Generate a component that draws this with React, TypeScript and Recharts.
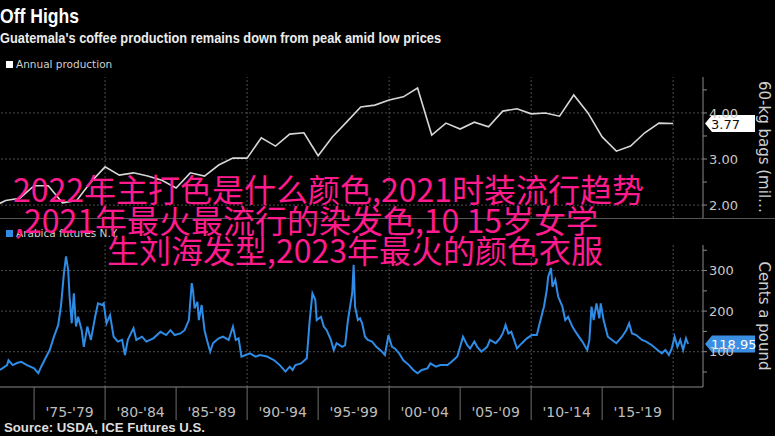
import React from 'react';
import { LineChart, Line, XAxis, YAxis, ReferenceLine } from 'recharts';

// Annual production, million 60-kg bags
const productionYears = [
  1972, 1973, 1974, 1975, 1976, 1977, 1978, 1979, 1980, 1981, 1982, 1983, 1984, 1985, 1986, 1987,
  1988, 1989, 1990, 1991, 1992, 1993, 1994, 1995, 1996, 1997, 1998, 1999, 2000, 2001, 2002, 2003,
  2004, 2005, 2006, 2007, 2008, 2009, 2010, 2011, 2012, 2013, 2014, 2015, 2016, 2017, 2018, 2019, 2020,
];
const productionValues = [
  1.95, 2.1, 2.15, 2.42, 2.42, 2.05, 2.1, 2.5, 2.83, 2.65, 2.7, 2.63, 2.54, 2.37, 2.7, 2.63,
  2.87, 3.02, 3.02, 3.46, 3.28, 3.54, 3.57, 3.07, 3.48, 3.8, 4.13, 4.17, 4.28, 4.35, 4.54, 3.52,
  3.78, 3.65, 3.8, 3.7, 4.04, 4.09, 3.98, 4.0, 3.93, 4.39, 4.0, 3.48, 3.17, 3.28, 3.57, 3.78, 3.77,
];

// Arabica futures N.Y., cents a pound
const futuresDates = [
  1972.6, 1973.1, 1973.2, 1973.5, 1973.8, 1974.1, 1974.5, 1975.0, 1975.3, 1975.5, 1975.8, 1976.1,
  1976.4, 1976.7, 1976.9, 1977.1, 1977.25, 1977.4, 1977.5, 1977.65, 1977.8, 1977.95, 1978.1, 1978.35,
  1978.5, 1978.75, 1979.0, 1979.3, 1979.5, 1979.8, 1979.9, 1980.1, 1980.35, 1980.6, 1980.9, 1981.2,
  1981.4, 1981.6, 1982.0, 1982.2, 1982.6, 1982.9, 1983.4, 1983.9, 1984.3, 1984.6, 1984.9, 1985.3,
  1985.6, 1985.9, 1986.1, 1986.2, 1986.3, 1986.5, 1986.6, 1986.8, 1987.0, 1987.2, 1987.4, 1987.6,
  1988.0, 1988.3, 1988.7, 1989.0, 1989.2, 1989.4, 1989.6, 1989.9, 1990.2, 1990.6, 1990.9, 1991.4,
  1991.9, 1992.3, 1992.7, 1993.0, 1993.2, 1993.4, 1993.8, 1994.2, 1994.4, 1994.6, 1994.8, 1994.9,
  1995.2, 1995.4, 1995.6, 1995.9, 1996.1, 1996.3, 1996.7, 1996.9, 1997.1, 1997.25, 1997.4, 1997.5,
  1997.6, 1997.8, 1997.95, 1998.1, 1998.3, 1998.5, 1998.8, 1999.1, 1999.5, 1999.7, 1999.95, 2000.2,
  2000.4, 2000.7, 2001.0, 2001.4, 2001.7, 2002.0, 2002.3, 2002.7, 2002.9, 2003.3, 2003.6, 2004.1,
  2004.4, 2004.8, 2005.0, 2005.2, 2005.5, 2005.7, 2006.0, 2006.2, 2006.5, 2006.9, 2007.1, 2007.5,
  2007.8, 2008.0, 2008.2, 2008.4, 2008.6, 2008.8, 2009.0, 2009.35, 2009.7, 2010.05, 2010.4, 2010.6,
  2010.9, 2011.1, 2011.2, 2011.4, 2011.5, 2011.7, 2011.9, 2012.2, 2012.4, 2012.6, 2012.9, 2013.2,
  2013.6, 2013.95, 2014.1, 2014.25, 2014.4, 2014.6, 2014.8, 2014.9, 2015.1, 2015.4, 2015.7, 2016.0,
  2016.4, 2016.7, 2016.9, 2017.1, 2017.4, 2017.8, 2018.1, 2018.5, 2018.9, 2019.2, 2019.45, 2019.7,
  2019.9, 2020.1, 2020.3, 2020.5, 2020.7, 2020.9, 2021.05,
];
const futuresValues = [
  55, 67, 79, 67, 72, 75, 67, 59, 47, 63, 84, 104,
  137, 166, 215, 293, 335, 302, 236, 170, 244, 162, 186, 153,
  112, 162, 129, 186, 219, 215, 219, 170, 190, 137, 125, 129,
  92, 129, 158, 129, 137, 125, 133, 149, 141, 153, 141, 145,
  153, 178, 269, 248, 207, 223, 178, 215, 153, 125, 100, 121,
  133, 137, 129, 162, 129, 133, 88, 92, 96, 88, 92, 88,
  79, 67, 51, 63, 55, 67, 71, 84, 174, 244, 228, 178,
  186, 162, 153, 129, 104, 121, 112, 116, 178, 211, 244, 314,
  211, 178, 182, 170, 137, 129, 125, 112, 100, 92, 141, 112,
  108, 96, 79, 67, 55, 47, 55, 59, 71, 63, 67, 67,
  75, 88, 112, 137, 116, 108, 125, 112, 100, 112, 129, 121,
  133, 145, 166, 145, 149, 129, 108, 121, 133, 141, 141, 170,
  211, 252, 285, 306, 260, 277, 236, 211, 178, 186, 162, 145,
  125, 104, 129, 211, 178, 219, 182, 219, 178, 137, 129, 121,
  137, 153, 170, 145, 141, 129, 125, 116, 104, 96, 104, 92,
  108, 137, 112, 129, 104, 133, 118.95,
];

const periodTicks = [1975, 1977.5, 1980, 1982.5, 1985, 1987.5, 1990, 1992.5, 1995, 1997.5, 2000, 2002.5, 2005, 2007.5, 2010, 2012.5, 2015, 2017.5, 2020];
const decadeYears = [1980, 1990, 2000, 2010, 2020];
const productionTicks = [2, 2.5, 3, 3.5, 4, 4.5];
const productionGrid = [2, 3, 4];
const futuresTicks = [50, 100, 150, 200, 250, 300, 350];
const futuresGrid = [100, 200, 300];

const yearDomain = [1972.6, 2022.1];

const productionData = productionYears.map((year, i) => ({ year, value: productionValues[i] }));
const futuresData = futuresDates.map((year, i) => ({ year, value: futuresValues[i] }));

const GRID = '#4d4d4d';
const AXIS = '#8a8a8a';
const BLUE = '#2f8ce6';
const PINK = '#ff1b8d';

const ValueTag = (props: any) => {
  const { viewBox, text, fill, color } = props;
  const x = viewBox.x + viewBox.width + 2;
  const y = viewBox.y;
  return (
    <g>
      <path
        d={`M${x},${y} L${x + 7},${y - 8.5} L${x + 50},${y - 8.5} L${x + 50},${y + 8.5} L${x + 7},${y + 8.5} Z`}
        fill={fill}
      />
      <text x={x + 6} y={y + 5} fontSize={13} fill={color} fontFamily="DejaVu Sans">
        {text}
      </text>
    </g>
  );
};

const PeriodTick = (props: any) => {
  const { x, y, payload } = props;
  const v = payload.value;
  if (v % 5 === 0) {
    return <line x1={x} x2={x} y1={y} y2={y + 33} stroke="#6e6e6e" />;
  }
  const start = v - 2.5;
  const label = `'${String(start).slice(2)}-'${String(start + 4).slice(2)}`;
  return (
    <text x={x} y={y + 30} textAnchor="middle" fontSize={14} fill="#bdbdbd" fontFamily="DejaVu Sans">
      {label}
    </text>
  );
};

const tickStyle = { fontSize: 13, fill: '#c8c8c8', fontFamily: 'DejaVu Sans' };

export default function App() {
  return (
    <div style={{ position: 'fixed', left: 0, top: 0, width: 775, height: 436, background: '#000', overflow: 'hidden' }}>
      {/* top panel: annual production */}
      <div style={{ position: 'absolute', left: 0, top: 0 }}>
        <LineChart width={775} height={230} data={productionData} margin={{ top: 77, right: 0, bottom: 12, left: 0 }}>
          <XAxis dataKey="year" type="number" domain={yearDomain} allowDataOverflow hide />
          <YAxis
            orientation="right"
            type="number"
            width={72}
            domain={[1.72, 4.78]}
            allowDataOverflow
            ticks={productionTicks}
            interval={0}
            tickFormatter={(v: number) => (Number.isInteger(v) ? v.toFixed(2) : '')}
            tick={tickStyle}
            tickSize={4}
            tickMargin={2}
            axisLine={{ stroke: AXIS }}
            tickLine={{ stroke: AXIS }}
          />
          {productionGrid.map((v) => (
            <ReferenceLine key={`pg-${v}`} y={v} stroke={GRID} strokeDasharray="2 2" />
          ))}
          {decadeYears.map((v) => (
            <ReferenceLine key={`pv-${v}`} x={v} stroke={GRID} strokeDasharray="2 2" />
          ))}
          <Line type="linear" dataKey="value" stroke="#d6d6d6" strokeWidth={1.6} dot={false} isAnimationActive={false} />
          <ReferenceLine
            y={3.77}
            stroke="none"
            label={<ValueTag text="3.77" fill="#ffffff" color="#111" />}
          />
        </LineChart>
      </div>

      <div style={{ position: 'absolute', left: 0, top: 218, width: 775, height: 1, background: '#555' }} />

      {/* bottom panel: arabica futures */}
      <div style={{ position: 'absolute', left: 0, top: 230 }}>
        <LineChart width={775} height={206} data={futuresData} margin={{ top: 15, right: 0, bottom: 0, left: 0 }}>
          <XAxis
            dataKey="year"
            type="number"
            domain={yearDomain}
            allowDataOverflow
            ticks={periodTicks}
            interval={0}
            height={49}
            tick={<PeriodTick />}
            tickLine={false}
            tickSize={0}
            tickMargin={0}
            axisLine={{ stroke: AXIS }}
          />
          <YAxis
            orientation="right"
            type="number"
            width={72}
            domain={[13, 363]}
            allowDataOverflow
            ticks={futuresTicks}
            interval={0}
            tickFormatter={(v: number) => (v % 100 === 0 ? String(v) : '')}
            tick={tickStyle}
            tickSize={4}
            tickMargin={2}
            axisLine={{ stroke: AXIS }}
            tickLine={{ stroke: AXIS }}
          />
          {futuresGrid.map((v) => (
            <ReferenceLine key={`fg-${v}`} y={v} stroke={GRID} strokeDasharray="2 2" />
          ))}
          {decadeYears.map((v) => (
            <ReferenceLine key={`fv-${v}`} x={v} stroke={GRID} strokeDasharray="2 2" />
          ))}
          <Line type="linear" dataKey="value" stroke={BLUE} strokeWidth={2} dot={false} isAnimationActive={false} />
          <ReferenceLine
            y={118.95}
            stroke="none"
            label={<ValueTag text="118.95" fill="#3b8fe2" color="#fff" />}
          />
        </LineChart>
      </div>

      {/* text layer */}
      <svg width={775} height={436} style={{ position: 'absolute', left: 0, top: 0, pointerEvents: 'none' }}>
        <text x={0} y={23} fontSize={21} fontWeight="bold" fill="#fff" fontFamily="Liberation Sans" textLength={79} lengthAdjust="spacingAndGlyphs">
          Off Highs
        </text>
        <text x={0} y={43} fontSize={15} fontWeight="bold" fill="#ececec" fontFamily="Liberation Sans" textLength={441} lengthAdjust="spacingAndGlyphs">
          Guatemala's coffee production remains down from peak amid low prices
        </text>

        <rect x={6} y={61} width={7} height={7} fill="#fff" />
        <text x={16} y={68} fontSize={10.5} fill="#cfcfcf" fontFamily="DejaVu Sans">Annual production</text>

        <rect x={6} y={230} width={7} height={7} fill={BLUE} />
        <text x={16} y={237} fontSize={10.5} fill="#cfcfcf" fontFamily="DejaVu Sans">Arabica futures N.Y.</text>

        <text transform="translate(759,147) rotate(90)" textAnchor="middle" fontSize={15} fill="#cfcfcf" fontFamily="DejaVu Sans">
          60-kg bags (mil…
        </text>
        <text transform="translate(759,316) rotate(90)" textAnchor="middle" fontSize={15} fill="#cfcfcf" fontFamily="DejaVu Sans">
          Cents a pound
        </text>

        <text x={4} y={432} fontSize={12} fontWeight="bold" fill="#dedede" fontFamily="Liberation Sans" textLength={201} lengthAdjust="spacingAndGlyphs">
          Source: USDA, ICE Futures U.S.
        </text>

        <g fontFamily="Noto Sans CJK SC" fontSize={32} fill={PINK}>
          <text x={13} y={202}>2022年主打色是什么颜色,2021时装流行趋势</text>
          <text x={15} y={233}>,2021年最火最流行的染发色,10 15岁女学</text>
          <text x={107} y={263}>生刘海发型,2023年最火的颜色衣服</text>
        </g>
      </svg>
    </div>
  );
}
